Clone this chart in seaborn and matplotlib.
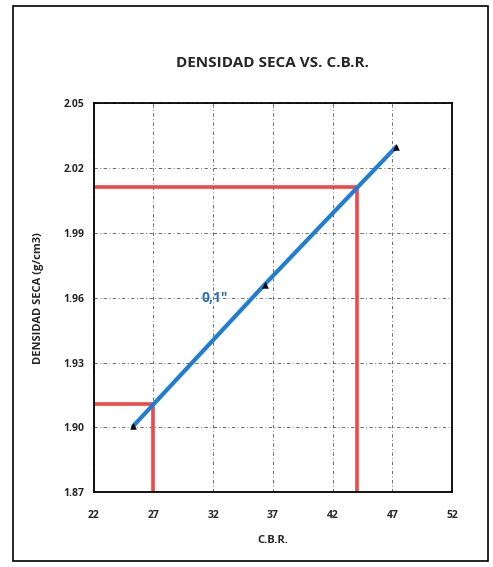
import pandas as pd
import matplotlib.pyplot as plt
import seaborn as sns
from matplotlib.patches import Rectangle

# Datos
cbr = [25.3, 36.3, 47.3]
densidad = [1.9005, 1.966, 2.0297]

# Lineas de lectura (rojo): C.B.R. y densidad seca correspondiente
cbr_lectura = [27.0, 44.07]
dens_lectura = [1.911, 2.011]

x_ticks = [22, 27, 32, 37, 42, 47, 52]
y_ticks = [1.87, 1.90, 1.93, 1.96, 1.99, 2.02, 2.05]

df = pd.DataFrame({"CBR": cbr, "Densidad": densidad})

sns.set_style("white")
plt.rcParams['font.family'] = ['Open Sans', 'DejaVu Sans']

fig = plt.figure(figsize=(4.93, 5.67), dpi=100)
ax = fig.add_axes([0.19, 0.132, 0.727, 0.686])

# marco exterior de la pagina
fig.patches.append(Rectangle((0.026, 0.011), 0.964, 0.979, transform=fig.transFigure,
                             fill=False, edgecolor="black", linewidth=1.2))

# lineas rojas de lectura
for xv, yv in zip(cbr_lectura, dens_lectura):
    ax.plot([xv, xv], [y_ticks[0], yv], color="#f04848", lw=2.6, zorder=2)
    ax.plot([x_ticks[0], xv], [yv, yv], color="#f04848", lw=2.6, zorder=2)

# curva y puntos
sns.lineplot(data=df, x="CBR", y="Densidad", ax=ax, color="#1f7ed4", lw=3, zorder=3)
sns.scatterplot(data=df, x="CBR", y="Densidad", ax=ax, marker="^", color="black",
                s=18, zorder=4, edgecolor="black")

ax.text(31.0, 1.960, '0,1"', color="#2a6fc0", fontsize=10, fontweight="bold",
        va="center", ha="left")

ax.set_xlim(22, 52)
ax.set_ylim(1.87, 2.05)
ax.set_xticks(x_ticks)
ax.set_yticks(y_ticks)
ax.set_yticklabels([f"{v:.2f}" for v in y_ticks])
ax.tick_params(labelsize=7.5, length=3, direction="out", pad=10)
for lab in ax.get_xticklabels() + ax.get_yticklabels():
    lab.set_fontweight("bold")
ax.tick_params(axis="y", pad=4)

ax.grid(True, color="#555555", linestyle=(0, (4, 3, 1, 3)), linewidth=0.6)
for side in ["top", "right", "bottom", "left"]:
    ax.spines[side].set_visible(True)
    ax.spines[side].set_color("black")
    ax.spines[side].set_linewidth(1.3)

ax.set_xlabel("C.B.R.", fontsize=8, fontweight="bold", labelpad=10)
ax.set_ylabel("DENSIDAD SECA (g/cm3)", fontsize=8, fontweight="bold", labelpad=14)
ax.set_title("DENSIDAD SECA VS. C.B.R.", fontsize=11, fontweight="bold", pad=26)

fig.savefig("out.png", dpi=100)
